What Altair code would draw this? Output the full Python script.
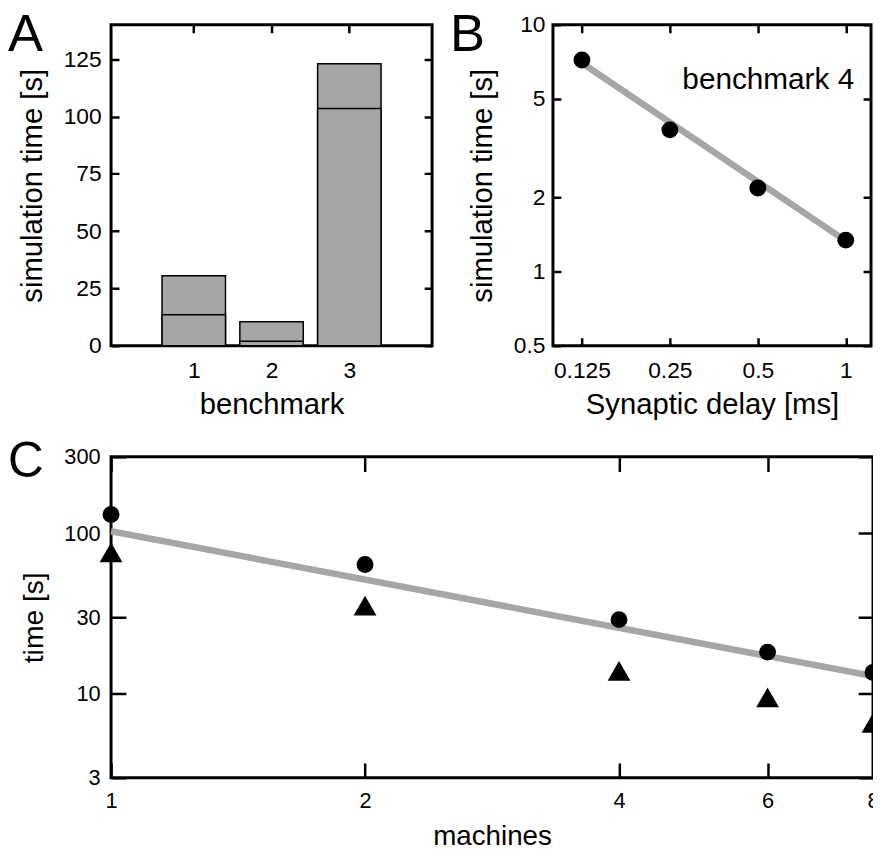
import altair as alt
import pandas as pd

# ---------------- data ----------------
# Panel A
bench = [1, 2, 3]
bench_total = [30.5, 10.5, 123.0]
bench_part = [13.5, 2.0, 103.5]
a_yticks = [0, 25, 50, 75, 100, 125]

# Panel B
delay = [0.125, 0.25, 0.5, 1.0]
delay_time = [7.2, 3.75, 2.18, 1.34]
delay_fit_x = [0.125, 1.0]
delay_fit_y = [7.0, 1.33]
b_xticks = [0.125, 0.25, 0.5, 1]
b_yticks = [0.5, 1, 2, 5, 10]
b_note = ["benchmark 4"]

# Panel C
machines = [1, 2, 4, 6, 8]
time_circle = [131, 64, 29, 18.2, 13.6]
time_triangle = [76, 35.4, 13.9, 9.5, 6.6]
fit_x = [1, 8]
fit_y = [103, 12.9]
c_xticks = [1, 2, 4, 6, 8]
c_yticks = [3, 10, 30, 100, 300]

panel_letters = ["A", "B", "C"]

# ---------------- style ----------------
FONT = "Liberation Sans"
GRAY = "#a6a6a6"
BAR = "#a6a6a6"
WA, HA = 324, 324
WB, HB = 321, 324
WC, HC = 769, 324
TK_AB = 8
TK_C = 15


def lab_axis(values, title, pad, fmt, tpad, lsize, tsize):
    return alt.Axis(values=values, ticks=False, domain=False, grid=False,
                    labelPadding=pad, format=fmt, title=title, titlePadding=tpad,
                    labelFlush=False, labelOverlap=False, labelFontSize=lsize,
                    titleFontSize=tsize)


def tick_axis(values, orient, span, tk):
    return alt.Axis(orient=orient, values=values, offset=-span, tickSize=span,
                    tickDash=[tk, span - 2 * tk, tk], labels=False, domain=False,
                    grid=False, title=None)


def letter(t, size, dy):
    return alt.Chart(pd.DataFrame({"t": [t]})).mark_text(
        font=FONT, fontSize=size, align="left", baseline="alphabetic", color="black"
    ).encode(text="t:N", x=alt.value(-104), y=alt.value(dy))


# ---------------- Panel A ----------------
dfA = pd.DataFrame({"bench": bench, "total": bench_total, "part": bench_part})
xA = alt.Scale(domain=[0, 4], nice=False)
yA = alt.Scale(domain=[0, 140], nice=False)

barsTotal = alt.Chart(dfA).mark_bar(size=64, color=BAR, stroke="black", strokeWidth=1.5).encode(
    x=alt.X("bench:Q", scale=xA, axis=lab_axis(bench, "benchmark", 14, "d", 8, 23, 29.5)),
    y=alt.Y("total:Q", scale=yA, axis=lab_axis(a_yticks, "simulation time [s]", 10, "d", 16, 23, 29.5)),
    y2=alt.datum(0),
)
barsPart = alt.Chart(dfA).mark_bar(size=64, color=BAR, stroke="black", strokeWidth=1.5).encode(
    x=alt.X("bench:Q", scale=xA, axis=tick_axis(bench, "top", HA, TK_AB)),
    y=alt.Y("part:Q", scale=yA, axis=tick_axis(a_yticks, "right", WA, TK_AB)),
    y2=alt.datum(0),
)
panelA = alt.layer(barsTotal, barsPart, letter(panel_letters[0], 53, 26)).resolve_axis(
    x="independent", y="independent"
).properties(width=WA, height=HA)

# ---------------- Panel B ----------------
dfB = pd.DataFrame({"delay": delay, "time": delay_time})
dfBfit = pd.DataFrame({"delay": delay_fit_x, "time": delay_fit_y})
xB = alt.Scale(type="log", base=2, domain=[0.0995, 1.22], nice=False)
yB = alt.Scale(type="log", domain=[0.5, 10], nice=False)

lineB = alt.Chart(dfBfit).mark_line(color=GRAY, strokeWidth=6.5).encode(
    x=alt.X("delay:Q", scale=xB, axis=lab_axis(b_xticks, "Synaptic delay [ms]", 14, "~g", 8, 23, 29.5)),
    y=alt.Y("time:Q", scale=yB, axis=lab_axis(b_yticks, "simulation time [s]", 8, "~g", 16, 23, 29.5)),
)
ptsB = alt.Chart(dfB).mark_point(filled=True, shape="circle", size=290, color="black", opacity=1).encode(
    x=alt.X("delay:Q", scale=xB, axis=tick_axis(b_xticks, "top", HB, TK_AB)),
    y=alt.Y("time:Q", scale=yB, axis=tick_axis(b_yticks, "right", WB, TK_AB)),
)
noteB = alt.Chart(pd.DataFrame({"t": b_note})).mark_text(
    font=FONT, fontSize=30, align="right", baseline="alphabetic", color="black"
).encode(text="t:N", x=alt.value(WB - 17), y=alt.value(65))
panelB = alt.layer(lineB, ptsB, noteB, letter(panel_letters[1], 53, 26)).resolve_axis(
    x="independent", y="independent"
).properties(width=WB, height=HB)

# ---------------- Panel C ----------------
dfC = pd.DataFrame({"machines": machines, "circle": time_circle, "triangle": time_triangle})
dfCfit = pd.DataFrame({"machines": fit_x, "time": fit_y})
xC = alt.Scale(type="log", base=2, domain=[1, 8], nice=False)
yC = alt.Scale(type="log", domain=[3, 300], nice=False)

lineC = alt.Chart(dfCfit).mark_line(color=GRAY, strokeWidth=6.5).encode(
    x=alt.X("machines:Q", scale=xC, axis=lab_axis(c_xticks, "machines", 13, "d", 11, 22, 28)),
    y=alt.Y("time:Q", scale=yC, axis=lab_axis(c_yticks, "time [s]", 11, "d", 15, 22, 28.5)),
)
circC = alt.Chart(dfC).mark_point(filled=True, shape="circle", size=290, color="black", opacity=1).encode(
    x=alt.X("machines:Q", scale=xC, axis=tick_axis(c_xticks, "top", HC, TK_C)),
    y=alt.Y("circle:Q", scale=yC, axis=tick_axis(c_yticks, "right", WC, TK_C)),
)
triC = alt.Chart(dfC).mark_point(filled=True, shape="triangle-up", size=530, color="black", opacity=1).encode(
    x=alt.X("machines:Q", scale=xC, axis=None),
    y=alt.Y("triangle:Q", scale=yC, axis=None),
)
panelC = alt.layer(lineC, circC, triC, letter(panel_letters[2], 50, 20)).resolve_axis(
    x="independent", y="independent"
).properties(width=WC, height=HC)

top = alt.hconcat(panelA, panelB, spacing=122, bounds="flush")
chart = alt.vconcat(top, panelC, spacing=15).properties(
    autosize=alt.AutoSizeParams(type="none"),
    padding={"left": 104, "top": 13, "right": 769, "bottom": 831},
).configure_view(
    stroke="black", strokeWidth=3
).configure_axis(
    labelFont=FONT, titleFont=FONT, labelColor="black", titleColor="black",
    titleFontWeight="normal", tickColor="black", tickWidth=2.5, tickCap="butt", grid=False
)

chart.save("out.html", embed_options={"renderer": "svg", "actions": False})
